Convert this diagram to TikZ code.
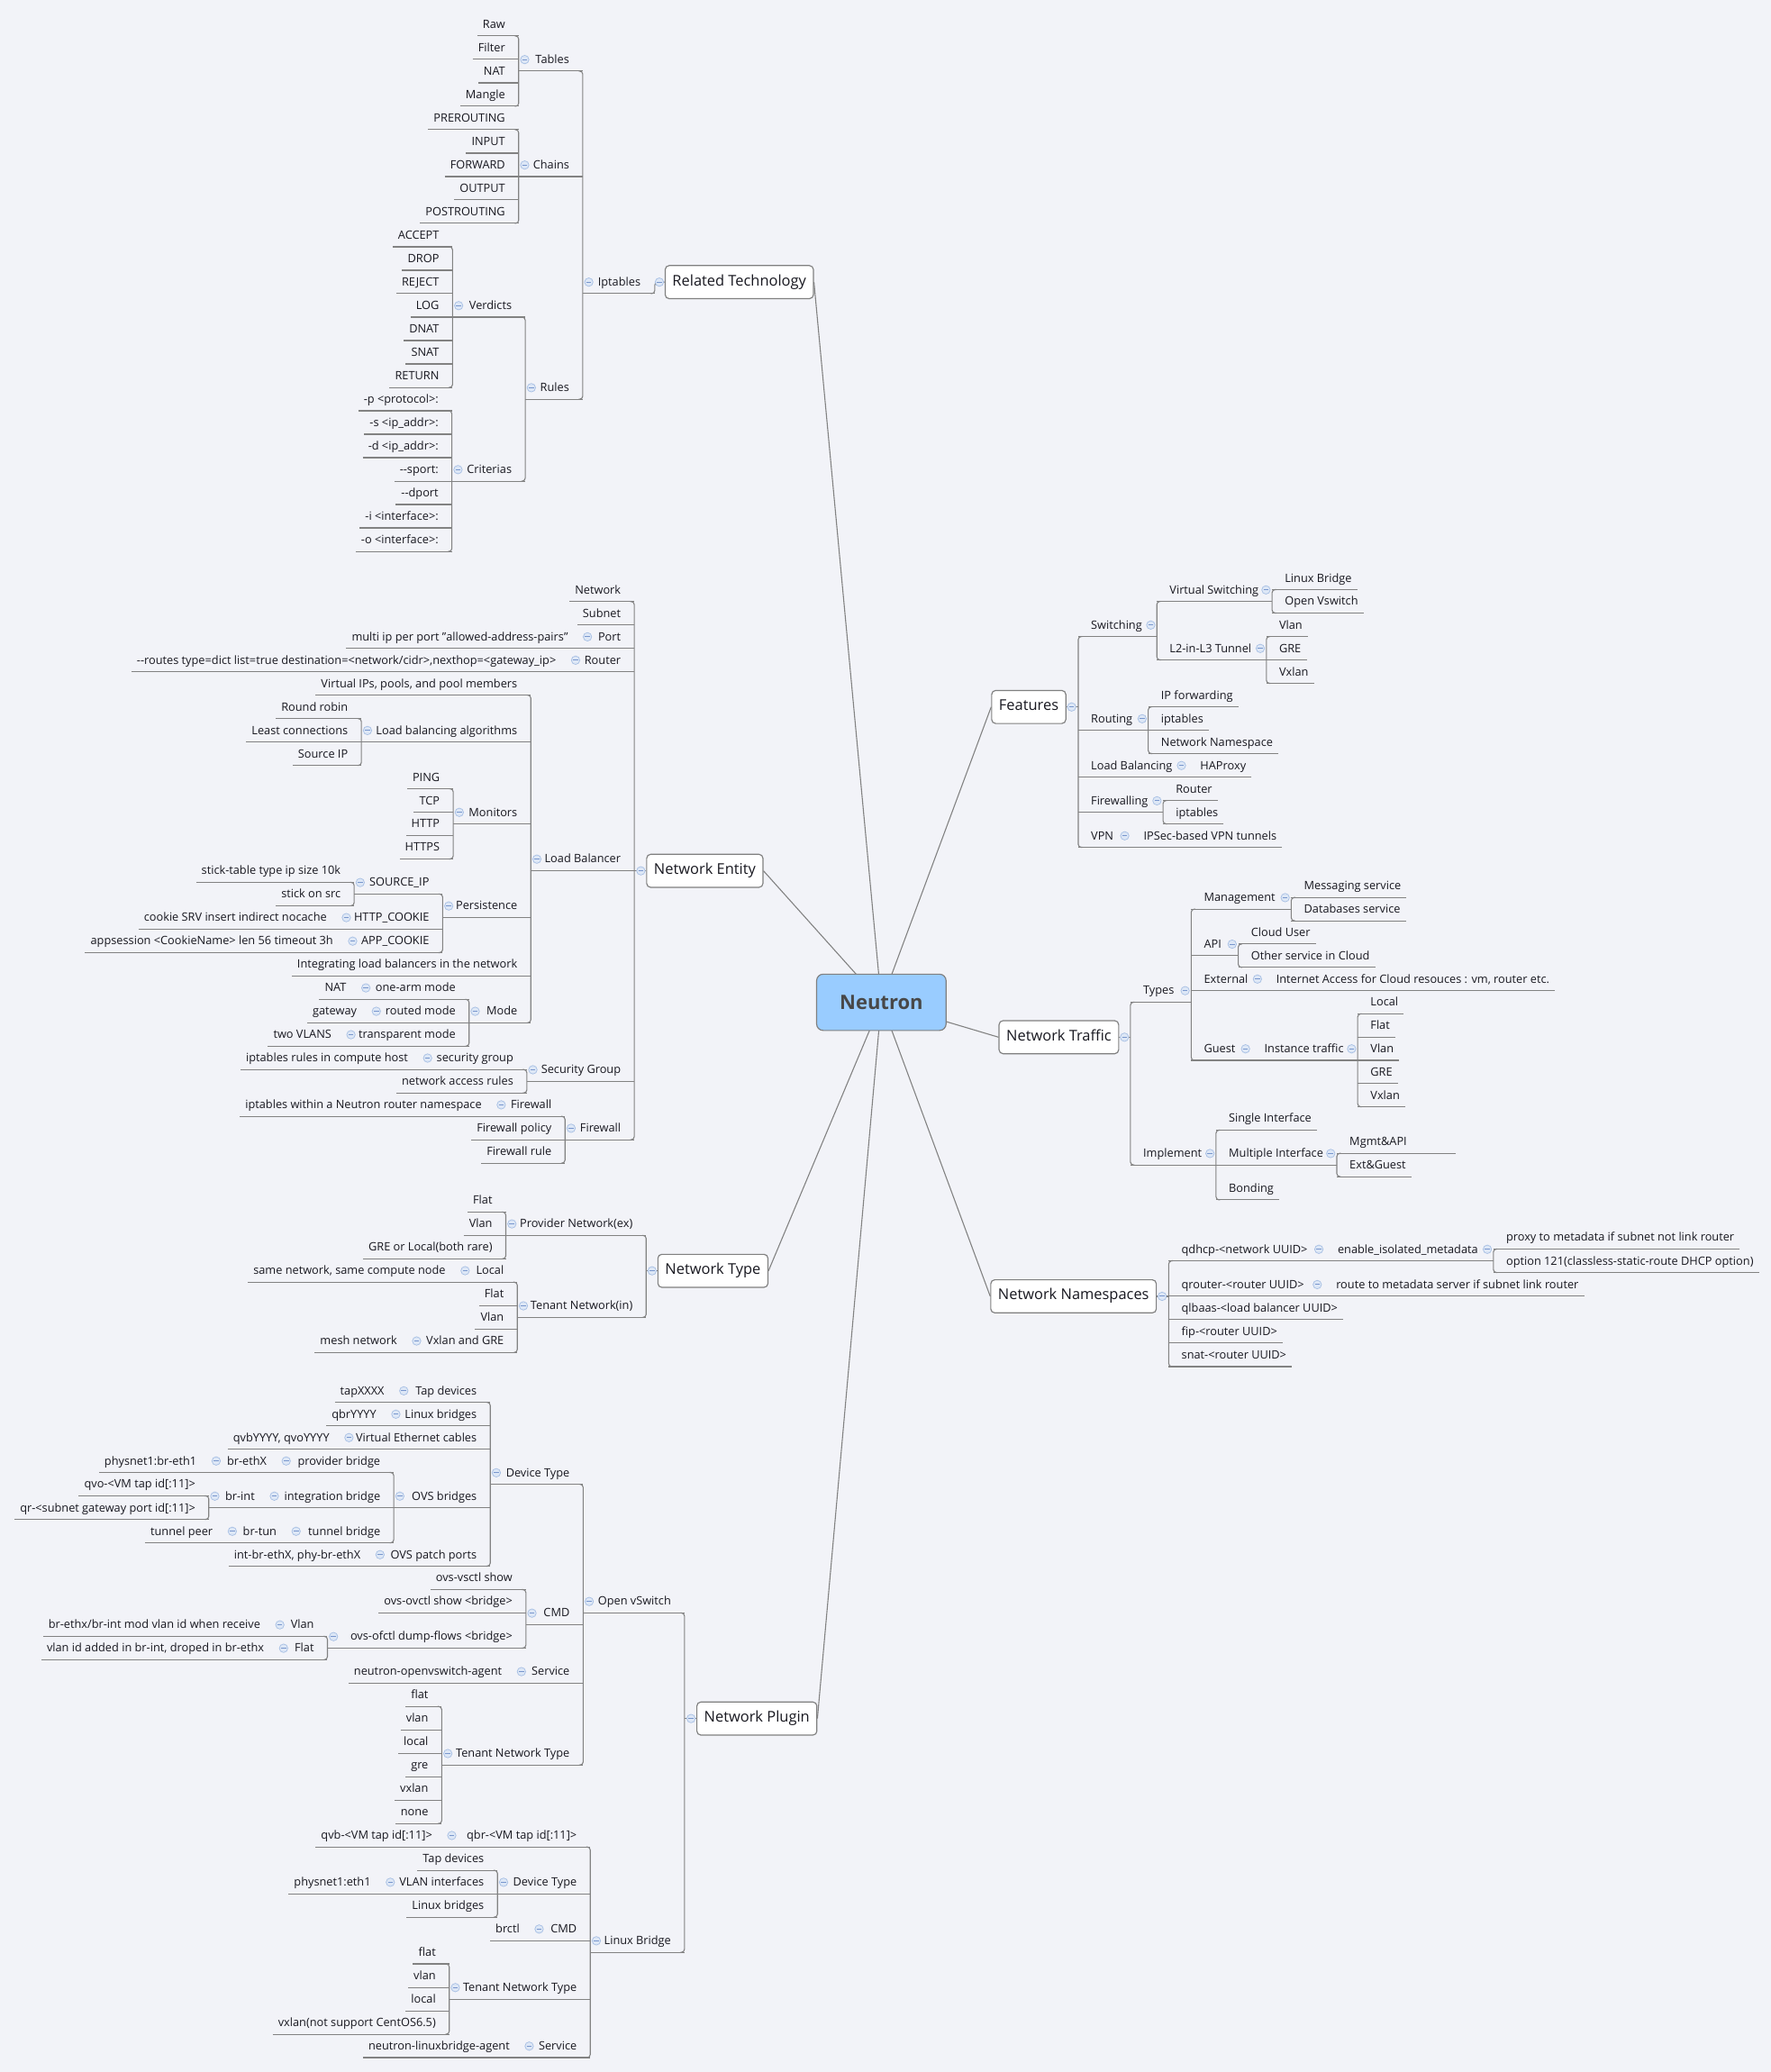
\documentclass[tikz,border=0pt]{standalone}
\usepackage{fontspec}
\setmainfont{Open Sans}
\usetikzlibrary{positioning}

\definecolor{paper}{RGB}{242,243,248}
\definecolor{ink}{RGB}{24,24,32}
\definecolor{linec}{RGB}{130,130,130}
\definecolor{boxc}{RGB}{128,128,128}
\definecolor{hubfill}{RGB}{153,204,255}
\definecolor{hubtext}{RGB}{72,72,72}
\definecolor{foldf}{RGB}{221,231,246}
\definecolor{foldb}{RGB}{168,192,228}
\definecolor{foldm}{RGB}{120,150,205}

\newcommand\leafL[2]{\draw[link] ([xshift=-4pt]#1.south west) -- (#1.south -| #2);}
\newcommand\leafR[2]{\draw[link] ([xshift=4pt]#1.south east) -- (#1.south -| #2);}
\newcommand\subL[3]{\draw[link] (#1.south -| #2) -- (#1.south -| #3);
  \node[fold] (#1-f) at ([xshift=4.6pt]#1.center -| #2) {};}
\newcommand\subR[3]{\draw[link] (#1.south -| #2) -- (#1.south -| #3);
  \node[fold] (#1-f) at ([xshift=-4.6pt]#1.center -| #2) {};}
\newcommand\brL[3]{\draw[link, rounded corners=2.3pt] ([xshift=-3pt]#2.south -| #1) -- (#2.south -| #1) -- (#3.south -| #1) -- ([xshift=-3pt]#3.south -| #1);}
\newcommand\brR[3]{\draw[link, rounded corners=2.3pt] ([xshift=3pt]#2.south -| #1) -- (#2.south -| #1) -- (#3.south -| #1) -- ([xshift=3pt]#3.south -| #1);}

\begin{document}
\begin{tikzpicture}[x=1pt, y=-1pt,
    link/.style={draw=linec, line width=0.75pt},
    lbl/.style={font=\fontsize{8.7}{10}\selectfont, text=ink, inner sep=0pt,
      text height=11.4pt, text depth=5.6pt},
    lt/.style={lbl, anchor=east},
    rt/.style={lbl, anchor=west},
    topic/.style={draw=boxc, fill=white, line width=0.8pt, rounded corners=3pt,
      font=\fontsize{11.2}{13}\selectfont, text=ink, inner xsep=5.5pt,
      inner ysep=0pt, minimum height=25pt, text height=8pt, text depth=2.6pt},
    hub/.style={draw=boxc, fill=hubfill, line width=0.8pt, rounded corners=5pt,
      minimum width=98pt, minimum height=42.6pt,
      font=\fontsize{15}{18}\selectfont\bfseries, text=hubtext},
    fold/.style={circle, draw=foldb, fill=foldf, line width=0.5pt,
      minimum size=6.4pt, inner sep=0pt,
      path picture={\draw[foldm, line width=0.7pt]
        ([xshift=-1.9pt]path picture bounding box.center) --
        ([xshift=1.9pt]path picture bounding box.center);}}]

\useasboundingbox (0,0) rectangle (1340,1568);
\fill[paper] (0,0) rectangle (1340,1568);

\foreach \cn/\xv in {rtB/495.5, iptB/441, tablesB/392.5, chainsB/392.5, rulesB/397.5, verdB/342.5, critB/342,
    neB/480, portB/440, routerB/431, lbB/401.7, lbaB/273.5, monB/343, persB/335, srcipB/268,
    httpcB/257.5, appcB/262.3, modeB/355, onearmB/272.3, routedB/280.2, transpB/261, secgB/398.7,
    secgrpB/319, fwallB/427.6, fw2B/374.7,
    ntypeB/489, provB/382.8, tenB/391.5, tlocalB/347.4, vxgreB/310.7,
    nplugB/518, ovsB/441.3, devB/371, tapdB/301, lbrsB/295, vethB/259.5, ovsbrB/298, provbrB/212,
    brethxB/159, intbrB/203, brintB/158, tunbrB/219.5, brtunB/171.2, patchB/283, cmdB/398,
    ofctlB/247.8, ofvlanB/207.2, offlatB/210, svcB/390, tntB/334.3,
    lbrB/446.7, qbrB/337.3, dev2B/376.5, vlanifB/290.8, cmd2B/403.4, tnt2B/340, svc2B/395.9,
    featB/816, switchingB/875.5, vswB/962.7, l2B/958.4, routingB/869, lbalB/898.7, fwlB/880.2, vpnB/855.8,
    ntrB/855.5, typesB/901.5, mgmtB/977.2, apiB/937.1, extB/956.2, guestB/947.2, instB/1027.5,
    implB/920.3, multiB/1011.7,
    nnsB/884.5, qdhcpB/1002.7, enableB/1130.2, qrouterB/1001.5}
  \coordinate (\cn) at (\xv,0);

\node[topic, anchor=west] (rt) at (503,213.5) {Related Technology};
\node[lt] (ipt) at (485,213.5) {Iptables};
\node[lt] (tables) at (431,45.1) {Tables};
\node[lt] (chains) at (431,124.9) {Chains};
\node[lt] (rules) at (431,293.4) {Rules};
\node[lt] (verd) at (387.5,231.3) {Verdicts};
\node[lt] (crit) at (387.5,355.4) {Criterias};
\foreach \n/\w/\y in {raw/Raw/18.5, filter/Filter/36.2, nat/NAT/54, mangle/Mangle/71.7}
  {\node[lt] (\n) at (382.5,\y) {\w}; \leafL{\n}{tablesB}}
\foreach \n/\w/\y in {pre/PREROUTING/89.4, input/INPUT/107.2, fwd/FORWARD/124.9, output/OUTPUT/142.6, post/POSTROUTING/160.3}
  {\node[lt] (\n) at (382.5,\y) {\w}; \leafL{\n}{chainsB}}
\foreach \n/\w/\y in {accept/ACCEPT/178.1, drop/DROP/195.8, reject/REJECT/213.5, log/LOG/231.3, dnat/DNAT/249, snat/SNAT/266.7, return/RETURN/284.5}
  {\node[lt] (\n) at (332.5,\y) {\w}; \leafL{\n}{verdB}}
\foreach \n/\w/\y in {optp/-p <protocol>:/302.2, opts/-s <ip\_addr>:/319.9, optd/-d <ip\_addr>:/337.6, sport/-{}-sport:/355.4, dport/-{}-dport/373.1, opti/-i <interface>:/390.8, opto/-o <interface>:/408.6}
  {\node[lt] (\n) at (332,\y) {\w}; \leafL{\n}{critB}}
\brL{tablesB}{raw}{mangle}
\brL{chainsB}{pre}{post}
\brL{verdB}{accept}{return}
\brL{critB}{optp}{opto}
\brL{rulesB}{verd}{crit}
\brL{iptB}{tables}{rules}
\subL{tables}{tablesB}{iptB}
\subL{chains}{chainsB}{iptB}
\subL{rules}{rulesB}{iptB}
\subL{verd}{verdB}{rulesB}
\subL{crit}{critB}{rulesB}
\subL{ipt}{iptB}{rtB}
\draw[link, rounded corners=2.3pt] ([xshift=-3pt]ipt.south -| rtB) -- (ipt.south -| rtB) -- (rt.west -| rtB) -- (rt.west);
\node[fold] (rt-f) at ([xshift=-4pt]rt.west) {};

\node[topic, anchor=west] (ne) at (489,659) {Network Entity};
\foreach \n/\w/\y in {network/Network/446.5, subnet/Subnet/464.2, port/Port/481.9, router/Router/499.6, lb/Load Balancer/650.15, secg/Security Group/809.55, fwall/Firewall/853.8}
  \node[lt] (\n) at (470,\y) {\w};
\leafL{network}{neB} \leafL{subnet}{neB}
\node[lt] (portc) at (430,481.9) {multi ip per port "allowed-address-pairs"};
\node[lt] (routerc) at (421,499.6) {-{}-routes type=dict list=true destination=<network/cidr>,nexthop=<gateway\_ip>};
\leafL{portc}{portB} \leafL{routerc}{routerB}
\node[lt] (vips) at (391.7,517.3) {Virtual IPs, pools, and pool members};
\node[lt] (lba) at (391.7,552.8) {Load balancing algorithms};
\node[lt] (mon) at (391.7,614.75) {Monitors};
\node[lt] (pers) at (391.7,685.6) {Persistence};
\node[lt] (integ) at (391.7,729.9) {Integrating load balancers in the network};
\node[lt] (mode) at (391.7,765.3) {Mode};
\leafL{vips}{lbB} \leafL{integ}{lbB}
\foreach \n/\w/\y in {rr/Round robin/535.1, lc/Least connections/552.8, sip/Source IP/570.5}
  {\node[lt] (\n) at (263.5,\y) {\w}; \leafL{\n}{lbaB}}
\foreach \n/\w/\y in {ping/PING/588.2, tcp/TCP/605.9, http/HTTP/623.6, https/HTTPS/641.3}
  {\node[lt] (\n) at (333,\y) {\w}; \leafL{\n}{monB}}
\node[lt] (srcip) at (325,667.85) {SOURCE\_IP};
\node[lt] (httpc) at (325,694.4) {HTTP\_COOKIE};
\node[lt] (appc) at (325,712.2) {APP\_COOKIE};
\node[lt] (stick) at (258,659) {stick-table type ip size 10k};
\node[lt] (stsrc) at (258,676.7) {stick on src};
\node[lt] (cookie) at (247.5,694.4) {cookie SRV insert indirect nocache};
\node[lt] (appsess) at (252.3,712.2) {appsession <CookieName> len 56 timeout 3h};
\leafL{stick}{srcipB} \leafL{stsrc}{srcipB} \leafL{cookie}{httpcB} \leafL{appsess}{appcB}
\foreach \n/\w/\y in {onearm/one-arm mode/747.6, routed/routed mode/765.3, transp/transparent mode/783}
  \node[lt] (\n) at (345,\y) {\w};
\node[lt] (armnat) at (262.3,747.6) {NAT};
\node[lt] (gw) at (270.2,765.3) {gateway};
\node[lt] (twov) at (251,783) {two VLANS};
\leafL{armnat}{onearmB} \leafL{gw}{routedB} \leafL{twov}{transpB}
\node[lt] (secgrp) at (388.7,800.7) {security group};
\node[lt] (nar) at (388.7,818.4) {network access rules};
\node[lt] (iprules) at (309,800.7) {iptables rules in compute host};
\leafL{nar}{secgB} \leafL{iprules}{secgrpB}
\node[lt] (fw2) at (417.6,836.1) {Firewall};
\node[lt] (fwpol) at (417.6,853.8) {Firewall policy};
\node[lt] (fwrule) at (417.6,871.5) {Firewall rule};
\node[lt] (ipwithin) at (364.7,836.1) {iptables within a Neutron router namespace};
\leafL{fwpol}{fwallB} \leafL{fwrule}{fwallB} \leafL{ipwithin}{fw2B}
\brL{lbaB}{rr}{sip} \brL{monB}{ping}{https} \brL{srcipB}{stick}{stsrc} \brL{persB}{srcip}{appc}
\brL{modeB}{onearm}{transp} \brL{lbB}{vips}{mode} \brL{secgB}{secgrp}{nar} \brL{fwallB}{fw2}{fwrule}
\brL{neB}{network}{fwall}
\subL{port}{portB}{neB} \subL{router}{routerB}{neB} \subL{lb}{lbB}{neB}
\subL{secg}{secgB}{neB} \subL{fwall}{fwallB}{neB}
\subL{lba}{lbaB}{lbB} \subL{mon}{monB}{lbB} \subL{pers}{persB}{lbB} \subL{mode}{modeB}{lbB}
\subL{srcip}{srcipB}{persB} \subL{httpc}{httpcB}{persB} \subL{appc}{appcB}{persB}
\subL{onearm}{onearmB}{modeB} \subL{routed}{routedB}{modeB} \subL{transp}{transpB}{modeB}
\subL{secgrp}{secgrpB}{secgB} \subL{fw2}{fw2B}{fwallB}
\draw[link] (ne.west) -- (ne.west -| neB);
\node[fold] (ne-f) at ([xshift=-4pt]ne.west) {};

\node[topic, anchor=west] (ntype) at (497.5,961.7) {Network Type};
\node[lt] (prov) at (479,926.2) {Provider Network(ex)};
\node[lt] (ten) at (479,988.2) {Tenant Network(in)};
\foreach \n/\w/\y in {pflat/Flat/908.5, pvlan/Vlan/926.2, pgre/GRE or Local(both rare)/943.9}
  {\node[lt] (\n) at (372.8,\y) {\w}; \leafL{\n}{provB}}
\foreach \n/\w/\y in {tlocal/Local/961.6, tflat/Flat/979.3, tvlan/Vlan/997.1, vxgre/Vxlan and GRE/1014.8}
  \node[lt] (\n) at (381.5,\y) {\w};
\leafL{tflat}{tenB} \leafL{tvlan}{tenB}
\node[lt] (samenode) at (337.4,961.6) {same network, same compute node};
\node[lt] (mesh) at (300.7,1014.8) {mesh network};
\leafL{samenode}{tlocalB} \leafL{mesh}{vxgreB}
\brL{provB}{pflat}{pgre} \brL{tenB}{tlocal}{vxgre} \brL{ntypeB}{prov}{ten}
\subL{prov}{provB}{ntypeB} \subL{ten}{tenB}{ntypeB}
\subL{tlocal}{tlocalB}{tenB} \subL{vxgre}{vxgreB}{tenB}
\draw[link] (ntype.west) -- (ntype.west -| ntypeB);
\node[fold] (ntype-f) at ([xshift=-4pt]ntype.west) {};

\node[topic, anchor=west] (nplug) at (527,1300.5) {Network Plugin};
\node[lt] (ovs) at (508,1211.9) {Open vSwitch};
\node[lt] (lbr) at (508,1468.7) {Linux Bridge};
\foreach \n/\w/\y in {dev/Device Type/1114.5, cmd/CMD/1220.75, svc/Service/1265, tnt/Tenant Network Type/1327}
  \node[lt] (\n) at (431.3,\y) {\w};
\foreach \n/\w/\y in {tapd/Tap devices/1052.5, lbrs/Linux bridges/1070.2, veth/Virtual Ethernet cables/1087.9, ovsbr/OVS bridges/1132.2, patch/OVS patch ports/1176.5}
  \node[lt] (\n) at (361,\y) {\w};
\node[lt] (tapx) at (291,1052.5) {tapXXXX};
\node[lt] (qbry) at (285,1070.2) {qbrYYYY};
\node[lt] (qvby) at (249.5,1087.9) {qvbYYYY, qvoYYYY};
\node[lt] (patchc) at (273,1176.5) {int-br-ethX, phy-br-ethX};
\leafL{tapx}{tapdB} \leafL{qbry}{lbrsB} \leafL{qvby}{vethB} \leafL{patchc}{patchB}
\foreach \n/\w/\y in {provbr/provider bridge/1105.6, intbr/integration bridge/1132.2, tunbr/tunnel bridge/1158.8}
  \node[lt] (\n) at (288,\y) {\w};
\node[lt] (brethx) at (202,1105.6) {br-ethX};
\node[lt] (brint) at (193,1132.2) {br-int};
\node[lt] (brtun) at (209.5,1158.8) {br-tun};
\node[lt] (phys) at (149,1105.6) {physnet1:br-eth1};
\node[lt] (qvo) at (148,1123.3) {qvo-<VM tap id[:11]>};
\node[lt] (qr) at (148,1141.1) {qr-<subnet gateway port id[:11]>};
\node[lt] (tpeer) at (161.2,1158.8) {tunnel peer};
\leafL{phys}{brethxB} \leafL{qvo}{brintB} \leafL{qr}{brintB} \leafL{tpeer}{brtunB}
\node[lt] (vsctl) at (388,1194.2) {ovs-vsctl show};
\node[lt] (ovctl) at (388,1211.9) {ovs-ovctl show <bridge>};
\node[lt] (ofctl) at (388,1238.5) {ovs-ofctl dump-flows <bridge>};
\leafL{vsctl}{cmdB} \leafL{ovctl}{cmdB}
\node[lt] (ofvlan) at (237.8,1229.6) {Vlan};
\node[lt] (offlat) at (237.8,1247.3) {Flat};
\node[lt] (modvlan) at (197.2,1229.6) {br-ethx/br-int mod vlan id when receive};
\node[lt] (addvlan) at (200,1247.3) {vlan id added in br-int, droped in br-ethx};
\leafL{modvlan}{ofvlanB} \leafL{addvlan}{offlatB}
\node[lt] (ovsagent) at (380,1265) {neutron-openvswitch-agent};
\leafL{ovsagent}{svcB}
\foreach \n/\w/\y in {oflat/flat/1282.7, ovlan/vlan/1300.4, olocal/local/1318.2, ogre/gre/1335.9, ovxlan/vxlan/1353.6, onone/none/1371.3}
  {\node[lt] (\n) at (324.3,\y) {\w}; \leafL{\n}{tntB}}
\node[lt] (qbr) at (436.7,1389) {qbr-<VM tap id[:11]>};
\node[lt] (dev2) at (436.7,1424.4) {Device Type};
\node[lt] (cmd2) at (436.7,1459.8) {CMD};
\node[lt] (tnt2) at (436.7,1504.1) {Tenant Network Type};
\node[lt] (svc2) at (436.7,1548.4) {Service};
\node[lt] (qvb) at (327.3,1389) {qvb-<VM tap id[:11]>};
\leafL{qvb}{qbrB}
\node[lt] (tapd2) at (366.5,1406.7) {Tap devices};
\node[lt] (vlanif) at (366.5,1424.4) {VLAN interfaces};
\node[lt] (lbrs2) at (366.5,1442.1) {Linux bridges};
\node[lt] (phys2) at (280.8,1424.4) {physnet1:eth1};
\leafL{tapd2}{dev2B} \leafL{lbrs2}{dev2B} \leafL{phys2}{vlanifB}
\node[lt] (brctl) at (393.4,1459.8) {brctl};
\leafL{brctl}{cmd2B}
\foreach \n/\w/\y in {lflat/flat/1477.5, lvlan/vlan/1495.3, llocal/local/1513}
  {\node[lt] (\n) at (330,\y) {\w}; \leafL{\n}{tnt2B}}
\node[lt] (lvxlan) at (330,1530.7) {vxlan(not support CentOS6.5)};
\leafL{lvxlan}{tnt2B}
\node[lt] (lbagent) at (385.9,1548.4) {neutron-linuxbridge-agent};
\leafL{lbagent}{svc2B}
\brL{ovsbrB}{provbr}{tunbr} \brL{brintB}{qvo}{qr} \brL{devB}{tapd}{patch} \brL{ofctlB}{ofvlan}{offlat}
\brL{cmdB}{vsctl}{ofctl} \brL{tntB}{oflat}{onone} \brL{ovsB}{dev}{tnt}
\brL{dev2B}{tapd2}{lbrs2} \brL{tnt2B}{lflat}{lvxlan} \brL{lbrB}{qbr}{svc2} \brL{nplugB}{ovs}{lbr}
\subL{ovs}{ovsB}{nplugB} \subL{lbr}{lbrB}{nplugB}
\subL{dev}{devB}{ovsB} \subL{cmd}{cmdB}{ovsB} \subL{svc}{svcB}{ovsB} \subL{tnt}{tntB}{ovsB}
\subL{tapd}{tapdB}{devB} \subL{lbrs}{lbrsB}{devB} \subL{veth}{vethB}{devB}
\subL{ovsbr}{ovsbrB}{devB} \subL{patch}{patchB}{devB}
\subL{provbr}{provbrB}{ovsbrB} \subL{intbr}{intbrB}{ovsbrB} \subL{tunbr}{tunbrB}{ovsbrB}
\subL{brethx}{brethxB}{provbrB} \subL{brint}{brintB}{intbrB} \subL{brtun}{brtunB}{tunbrB}
\subL{ofctl}{ofctlB}{cmdB} \subL{ofvlan}{ofvlanB}{ofctlB} \subL{offlat}{offlatB}{ofctlB}
\subL{qbr}{qbrB}{lbrB} \subL{dev2}{dev2B}{lbrB} \subL{cmd2}{cmd2B}{lbrB}
\subL{tnt2}{tnt2B}{lbrB} \subL{svc2}{svc2B}{lbrB} \subL{vlanif}{vlanifB}{dev2B}
\draw[link] (nplug.west) -- (nplug.west -| nplugB);
\node[fold] (nplug-f) at ([xshift=-4pt]nplug.west) {};

\node[topic, anchor=east] (feat) at (807,535) {Features};
\foreach \n/\w/\y in {switching/Switching/473, routing/Routing/543.9, lbal/Load Balancing/579.3, fwl/Firewalling/606, vpn/VPN/632.5}
  \node[rt] (\n) at (825.5,\y) {\w};
\node[rt] (vsw) at (885,446.4) {Virtual Switching};
\node[rt] (l2) at (885,490.7) {L2-in-L3 Tunnel};
\foreach \n/\w/\y in {fbridge/Linux Bridge/437.5, fovs/Open Vswitch/455.2}
  {\node[rt] (\n) at (972.2,\y) {\w}; \leafR{\n}{vswB}}
\foreach \n/\w/\y in {fvlan/Vlan/473, fgre/GRE/490.7, fvxlan/Vxlan/508.4}
  {\node[rt] (\n) at (967.9,\y) {\w}; \leafR{\n}{l2B}}
\foreach \n/\w/\y in {ipfwd/IP forwarding/526.2, ript/iptables/543.9, rns/Network Namespace/561.6}
  {\node[rt] (\n) at (878.5,\y) {\w}; \leafR{\n}{routingB}}
\node[rt] (haproxy) at (908.2,579.3) {HAProxy};
\leafR{haproxy}{lbalB}
\foreach \n/\w/\y in {frouter/Router/597.1, fipt/iptables/614.8}
  {\node[rt] (\n) at (889.7,\y) {\w}; \leafR{\n}{fwlB}}
\node[rt] (ipsec) at (865.3,632.5) {IPSec-based VPN tunnels};
\leafR{ipsec}{vpnB}
\brR{vswB}{fbridge}{fovs} \brR{l2B}{fvlan}{fvxlan} \brR{switchingB}{vsw}{l2}
\brR{routingB}{ipfwd}{rns} \brR{fwlB}{frouter}{fipt} \brR{featB}{switching}{vpn}
\subR{switching}{switchingB}{featB} \subR{routing}{routingB}{featB} \subR{lbal}{lbalB}{featB}
\subR{fwl}{fwlB}{featB} \subR{vpn}{vpnB}{featB}
\subR{vsw}{vswB}{switchingB} \subR{l2}{l2B}{switchingB}
\draw[link] (feat.east) -- (feat.east -| featB);
\node[fold] (feat-f) at ([xshift=4pt]feat.east) {};

\node[topic, anchor=east] (ntr) at (847,784.9) {Network Traffic};
\node[rt] (types) at (865,749.7) {Types};
\node[rt] (impl) at (865,872.9) {Implement};
\foreach \n/\w/\y in {mgmt/Management/679.3, api/API/714.5, ext/External/740.9, guest/Guest/793.7}
  \node[rt] (\n) at (911,\y) {\w};
\foreach \n/\w/\y in {msg/Messaging service/670.5, dbs/Databases service/688.1}
  {\node[rt] (\n) at (986.7,\y) {\w}; \leafR{\n}{mgmtB}}
\foreach \n/\w/\y in {cuser/Cloud User/705.7, osvc/Other service in Cloud/723.3}
  {\node[rt] (\n) at (946.6,\y) {\w}; \leafR{\n}{apiB}}
\node[rt] (inet) at (965.7,740.9) {Internet Access for Cloud resouces : vm, router etc.};
\leafR{inet}{extB}
\node[rt] (inst) at (956.7,793.7) {Instance traffic};
\foreach \n/\w/\y in {glocal/Local/758.5, gflat/Flat/776.1, gvlan/Vlan/793.7, ggre/GRE/811.3, gvxlan/Vxlan/828.9}
  {\node[rt] (\n) at (1037,\y) {\w}; \leafR{\n}{instB}}
\node[rt] (single) at (929.8,846.5) {Single Interface};
\node[rt] (multi) at (929.8,872.9) {Multiple Interface};
\node[rt] (bond) at (929.8,899.3) {Bonding};
\leafR{single}{implB} \leafR{bond}{implB}
\node[rt] (mgmtapi) at (1021.2,864.1) {Mgmt\&API};
\node[rt] (extguest) at (1021.2,881.7) {Ext\&Guest};
\draw[link] ([xshift=37pt]mgmtapi.south east) -- (mgmtapi.south -| multiB);
\leafR{extguest}{multiB}
\brR{mgmtB}{msg}{dbs} \brR{apiB}{cuser}{osvc} \brR{instB}{glocal}{gvxlan} \brR{typesB}{mgmt}{guest}
\brR{multiB}{mgmtapi}{extguest} \brR{implB}{single}{bond} \brR{ntrB}{types}{impl}
\subR{types}{typesB}{ntrB} \subR{impl}{implB}{ntrB}
\subR{mgmt}{mgmtB}{typesB} \subR{api}{apiB}{typesB} \subR{ext}{extB}{typesB} \subR{guest}{guestB}{typesB}
\subR{inst}{instB}{guestB} \subR{multi}{multiB}{implB}
\draw[link] (ntr.east) -- (ntr.east -| ntrB);
\node[fold] (ntr-f) at ([xshift=4pt]ntr.east) {};

\node[topic, anchor=east] (nns) at (875.5,981) {Network Namespaces};
\node[rt] (qdhcp) at (894,945.4) {qdhcp-<network UUID>};
\node[rt] (qrouter) at (894,972.1) {qrouter-<router UUID>};
\node[rt] (qlbaas) at (894,989.9) {qlbaas-<load balancer UUID>};
\node[rt] (fip) at (894,1007.7) {fip-<router UUID>};
\node[rt] (nsnat) at (894,1025.5) {snat-<router UUID>};
\leafR{qlbaas}{nnsB} \leafR{fip}{nnsB} \leafR{nsnat}{nnsB}
\node[rt] (enable) at (1012.2,945.4) {enable\_isolated\_metadata};
\node[rt] (proxy) at (1139.7,936.5) {proxy to metadata if subnet not link router};
\node[rt] (opt121) at (1139.7,954.3) {option 121(classless-static-route DHCP option)};
\leafR{proxy}{enableB} \leafR{opt121}{enableB}
\node[rt] (routemd) at (1011,972.1) {route to metadata server if subnet link router};
\leafR{routemd}{qrouterB}
\brR{enableB}{proxy}{opt121} \brR{nnsB}{qdhcp}{nsnat}
\subR{qdhcp}{qdhcpB}{nnsB} \subR{enable}{enableB}{qdhcpB} \subR{qrouter}{qrouterB}{nnsB}
\draw[link] (nns.east) -- (nns.east -| nnsB);
\node[fold] (nns-f) at ([xshift=4pt]nns.east) {};

\coordinate (hubc) at (667,758.5);
\foreach \b/\a in {rt/east, ne/east, ntype/east, nplug/east, feat/west, ntr/west, nns/west}
  \draw[link] (hubc) -- (\b.\a);
\node[hub] (neutron) at (hubc) {Neutron};
\end{tikzpicture}
\end{document}
